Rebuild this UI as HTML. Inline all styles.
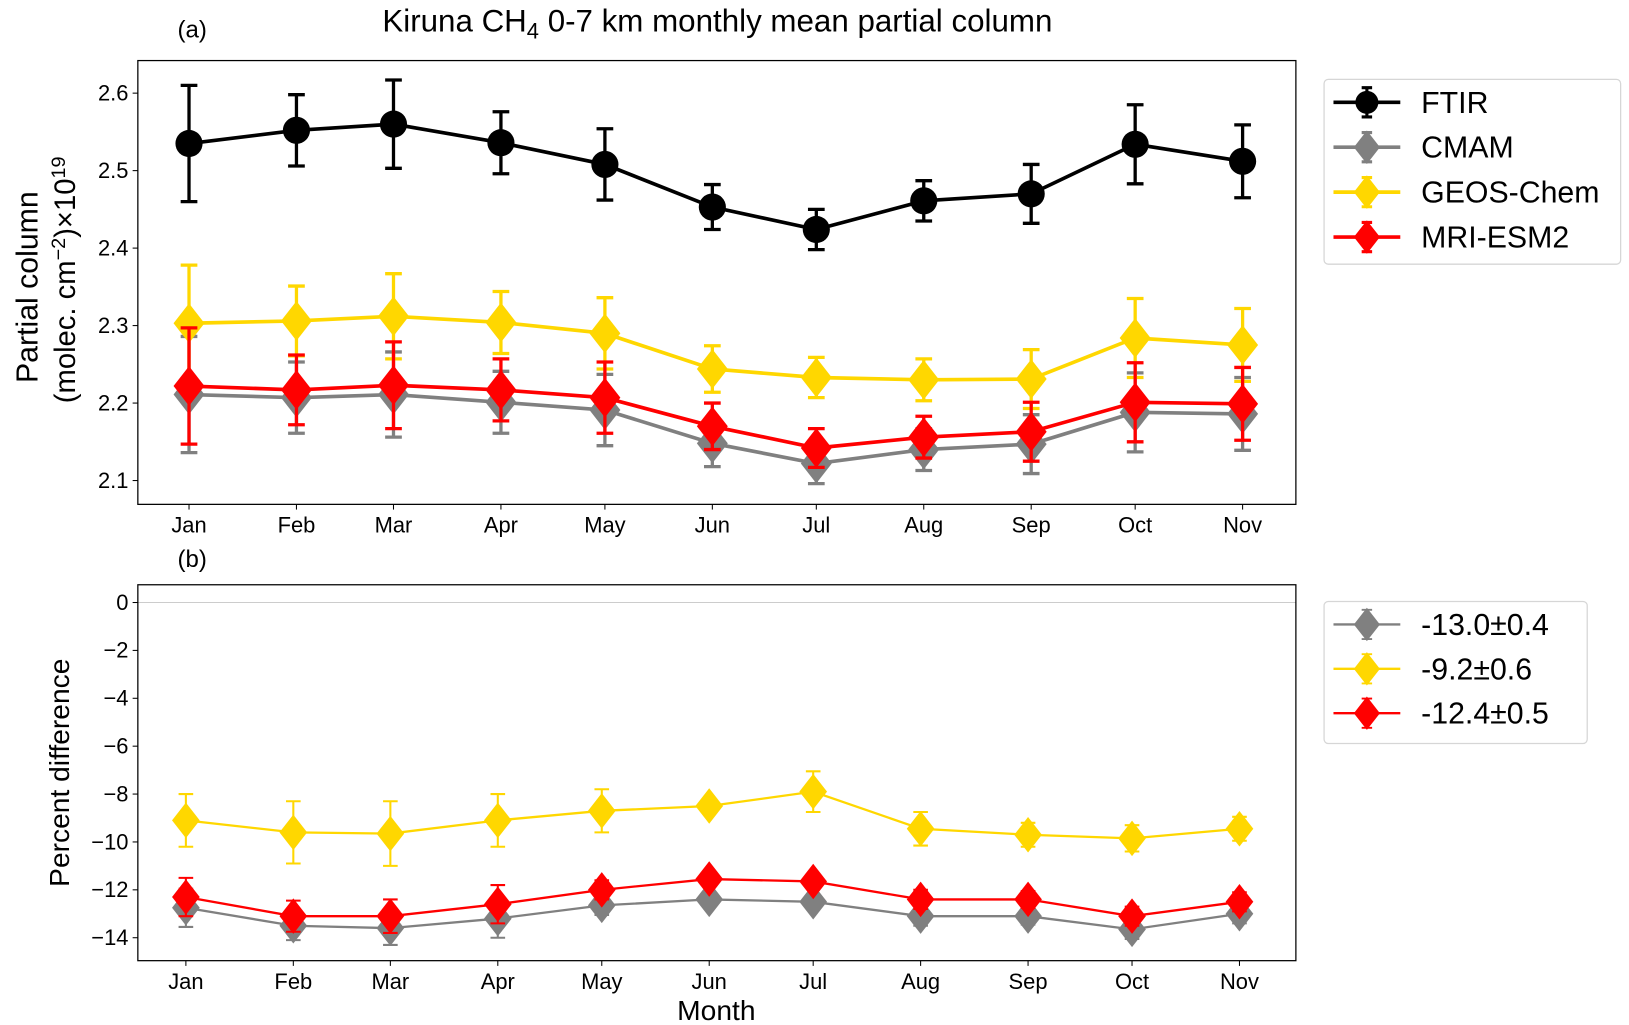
<!DOCTYPE html>
<html><head><meta charset="utf-8"><style>
html,body{margin:0;padding:0;background:#fff;}
svg{display:block;font-family:"Liberation Sans",sans-serif;}
</style></head><body>
<svg id="chart" width="1629" height="1025" viewBox="0 0 1560 981.6">
<g id="ga"></g>
<g id="gb"></g>
</svg>
<script>
const months=["Jan","Feb","Mar","Apr","May","Jun","Jul","Aug","Sep","Oct","Nov"];
const days=[15,46,74,105,135,166,196,227,258,288,319];
const ftir=[2.535,2.552,2.560,2.536,2.508,2.453,2.424,2.461,2.470,2.534,2.512];
const ftirErr=[0.075,0.046,0.057,0.040,0.046,0.029,0.026,0.026,0.038,0.051,0.047];
const geos=[2.303,2.306,2.312,2.304,2.290,2.244,2.233,2.230,2.231,2.284,2.275];
const geosErr=[0.075,0.045,0.055,0.040,0.046,0.030,0.026,0.027,0.038,0.051,0.047];
const mri=[2.222,2.217,2.223,2.217,2.207,2.170,2.142,2.156,2.163,2.201,2.199];
const mriErr=[0.075,0.045,0.056,0.040,0.046,0.030,0.025,0.027,0.038,0.051,0.047];
const cmam=[2.211,2.207,2.211,2.201,2.191,2.148,2.122,2.140,2.147,2.188,2.186];
const cmamErr=[0.075,0.046,0.055,0.040,0.046,0.030,0.026,0.027,0.038,0.051,0.047];
const geosPct=[-9.1,-9.6,-9.65,-9.1,-8.7,-8.5,-7.9,-9.45,-9.7,-9.85,-9.45];
const geosPctErr=[1.1,1.3,1.35,1.1,0.9,0.2,0.85,0.7,0.5,0.55,0.5];
const mriPct=[-12.3,-13.1,-13.1,-12.6,-12.0,-11.55,-11.65,-12.4,-12.4,-13.1,-12.5];
const mriPctErr=[0.8,0.65,0.7,0.8,0.4,0.2,0.3,0.4,0.35,0.4,0.4];
const cmamPct=[-12.75,-13.5,-13.6,-13.2,-12.65,-12.4,-12.5,-13.1,-13.1,-13.65,-13.0];
const cmamPctErr=[0.8,0.6,0.7,0.8,0.4,0.2,0.3,0.4,0.35,0.4,0.4];
const ticksA=[2.1,2.2,2.3,2.4,2.5,2.6];
const ticksB=[0,-2,-4,-6,-8,-10,-12,-14];
const legendB=["-13.0±0.4","-9.2±0.6","-12.4±0.5"];

const NS="http://www.w3.org/2000/svg";
function mk(p,t,a,txt){const e=document.createElementNS(NS,t);for(const k in a)e.setAttribute(k,a[k]);if(txt!=null)e.textContent=txt;p.appendChild(e);return e;}
const svg=document.getElementById('chart');
const ga=document.getElementById('ga'), gb=document.getElementById('gb');
const xA=d=>181+(d-15)*3.319;
const xB=d=>178+(d-15)*3.319;
const yA=v=>386-(v-2.2)*742;
const yB=v=>577-v*22.93;

function axes(g,L,T,R,B,ticks,yf,xf,fmt){
  const f=mk(g,'rect',{x:L,y:T,width:R-L,height:B-T,fill:'none',stroke:'#000','stroke-width':1.2});
  
  ticks.forEach(t=>{const y=yf(t);
    const l=mk(g,'line',{x1:L-5,x2:L,y1:y,y2:y,stroke:'#000','stroke-width':1});
    
    const tx=mk(g,'text',{x:L-9,y:y+7,'text-anchor':'end','font-size':21},fmt(t));
    });
  days.forEach((d,i)=>{const x=xf(d);
    const l=mk(g,'line',{x1:x,x2:x,y1:B,y2:B+5,stroke:'#000','stroke-width':1});
    
    const tx=mk(g,'text',{x:x,y:B+27,'text-anchor':'middle','font-size':21},months[i]);
    });
}
function marker(g,x,y,shape,col,s){
  if(shape==='o') return mk(g,'circle',{cx:x,cy:y,r:s,fill:col});
  return mk(g,'polygon',{points:`${x},${y-s} ${x+s*0.78},${y} ${x},${y+s} ${x-s*0.78},${y}`,fill:col});
}
function series(g,name,vals,errs,xf,yf,col,shape,lw,ms,cap){
  const s=mk(g,'g',{});
  const pl=mk(s,'polyline',{points:vals.map((v,i)=>xf(days[i])+','+yf(v)).join(' '),fill:'none',stroke:col,'stroke-width':lw});
  
  vals.forEach((v,i)=>{const x=xf(days[i]),y1=yf(v-errs[i]),y2=yf(v+errs[i]);
    const eb=mk(s,'path',{d:`M${x},${y1}V${y2}M${x-cap},${y1}h${2*cap}M${x-cap},${y2}h${2*cap}`,stroke:col,'stroke-width':lw*0.9,fill:'none'});
    
    const m=marker(s,x,yf(v),shape,col,ms);
    });
}
// Panel A
axes(ga,132,58,1241,483,ticksA,yA,xA,t=>t.toFixed(1));
series(ga,'cmam',cmam,cmamErr,xA,yA,'#808080','d',3.5,19,8);
series(ga,'geos-chem',geos,geosErr,xA,yA,'#FFD700','d',3.5,19,8);
series(ga,'mri-esm2',mri,mriErr,xA,yA,'#FF0000','d',3.5,19,8);
series(ga,'ftir',ftir,ftirErr,xA,yA,'#000','o',3.5,13,8);
// Panel B
const zl=mk(gb,'line',{x1:132,x2:1241,y1:yB(0),y2:yB(0),stroke:'#ccc','stroke-width':1});

axes(gb,132,560,1241,920,ticksB,yB,xB,t=>t<0?'\u2212'+(-t):String(t));
series(gb,'cmam-diff',cmamPct,cmamPctErr,xB,yB,'#808080','d',2.2,17,7);
series(gb,'geos-chem-diff',geosPct,geosPctErr,xB,yB,'#FFD700','d',2.2,17,7);
series(gb,'mri-esm2-diff',mriPct,mriPctErr,xB,yB,'#FF0000','d',2.2,17,7);

// Legends
function legend(L,T,W,H,items,lw,gap){
  const g=mk(svg,'g',{});
  const b=mk(g,'rect',{x:L,y:T,width:W,height:H,rx:4,fill:'#fff',stroke:'#d6d6d6','stroke-width':1.2});
  
  items.forEach((it,i)=>{const y=T+22+i*gap;
    const e=mk(g,'g',{});
    mk(e,'line',{x1:L+9,x2:L+73,y1:y,y2:y,stroke:it[1],'stroke-width':lw});
    mk(e,'path',{d:`M${L+41},${y-14}V${y+14}M${L+36},${y-14}h10M${L+36},${y+14}h10`,stroke:it[1],'stroke-width':lw*0.85});
    marker(e,L+41,y,it[2],it[1],it[2]==='o'?11:16);
    mk(e,'text',{x:L+93,y:y+10,'font-size':29},it[0]);});
}
legend(1268,76,284,177,[["FTIR","#000","o"],["CMAM","#808080","d"],["GEOS-Chem","#FFD700","d"],["MRI-ESM2","#FF0000","d"]],3.5,43);
legend(1268,576,252,136,[[legendB[0],"#808080","d"],[legendB[1],"#FFD700","d"],[legendB[2],"#FF0000","d"]],2.2,42.5);

// Titles and labels
function txt(a,s,name){const t=mk(svg,'text',a);t.innerHTML=s;return t;}
txt({x:687,y:30,'text-anchor':'middle','font-size':30},'Kiruna CH<tspan font-size="21" dy="7">4</tspan><tspan dy="-7"> 0-7 km monthly mean partial column</tspan>','chart-title');
txt({x:170,y:36,'font-size':23},'(a)','panel-a-label');
txt({x:170,y:543,'font-size':23},'(b)','panel-b-label');
txt({x:686,y:977,'text-anchor':'middle','font-size':27},'Month','x-axis-title');
txt({transform:'translate(36,275) rotate(-90)','text-anchor':'middle','font-size':29},'Partial column','y-axis-title-a');
txt({transform:'translate(72,268) rotate(-90)','text-anchor':'middle','font-size':28},'(molec. cm<tspan font-size="19" dy="-10">\u22122</tspan><tspan dy="10">)\u00d710</tspan><tspan font-size="19" dy="-10">19</tspan>','y-axis-units-a');
txt({transform:'translate(66,740) rotate(-90)','text-anchor':'middle','font-size':27},'Percent difference','y-axis-title-b');
</script>
</body></html>
